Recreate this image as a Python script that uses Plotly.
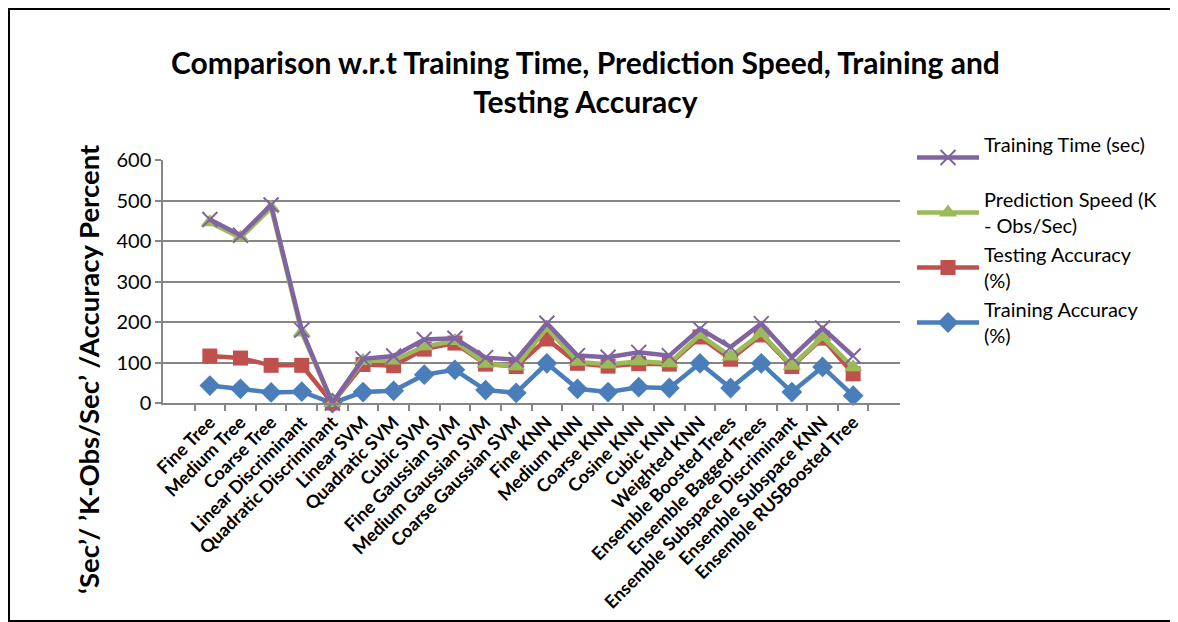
import plotly.graph_objects as go

categories = ["Fine Tree", "Medium Tree", "Coarse Tree", "Linear Discriminant",
              "Quadratic Discriminant", "Linear SVM", "Quadratic SVM", "Cubic SVM",
              "Fine Gaussian SVM", "Medium Gaussian SVM", "Coarse Gaussian SVM",
              "Fine KNN", "Medium KNN", "Coarse KNN", "Cosine KNN", "Cubic KNN",
              "Weighted KNN", "Ensemble Boosted Trees", "Ensemble Bagged Trees",
              "Ensemble Subspace Discriminant", "Ensemble Subspace KNN",
              "Ensemble RUSBoosted Tree"]

# Raw series values (the chart is an Excel-style stacked line chart)
training_accuracy = [43, 35, 26, 28, 0, 27, 30, 70, 82, 32, 25, 98, 35, 27, 39, 37, 98, 37, 98, 27, 89, 18]
testing_accuracy = [73, 76, 67, 65, 0, 68, 62, 63, 66, 64, 65, 60, 63, 64, 58, 59, 65, 71, 70, 63, 71, 54]
prediction_speed = [330, 297, 389, 81, 0, 9, 13, 7, 5, 1, 1, 27, 4, 4, 6, 2, 5, 7, 4, 2, 3, 16]
training_time = [7, 6, 7, 6, 0, 5, 11, 17, 7, 15, 16, 12, 15, 18, 22, 19, 15, 23, 24, 21, 22, 28]

series = [
    ("Training Accuracy<br>(%)", training_accuracy, "#4A7EBB",
     dict(symbol="diamond", size=16, color="#4A7EBB"), 4),
    ("Testing Accuracy<br>(%)", testing_accuracy, "#C0504D",
     dict(symbol="square", size=15, color="#C0504D"), 3),
    ("Prediction Speed (K<br>- Obs/Sec)", prediction_speed, "#9BBB59",
     dict(symbol="triangle-up", size=16, color="#9BBB59"), 2),
    ("Training Time (sec)<br> ", training_time, "#8064A2",
     dict(symbol="x-thin", size=15, color="#8064A2",
          line=dict(width=2, color="#8064A2")), 1),
]

fig = go.Figure()
for name, vals, col, mk, rank in series:
    fig.add_trace(go.Scatter(
        x=categories, y=vals, name=name, mode="lines+markers",
        stackgroup="one", fill="none", legendrank=rank,
        line=dict(color=col, width=4.5), marker=mk,
        cliponaxis=False,
    ))

# page is rendered with an 8px body margin
OFF = 8
W, H = 1170, 614
L, T = 163 - OFF, 160 - OFF
pw, ph = 737, 243
R, B = W - L - pw, H - T - ph

def px(x):
    return (x - OFF - L) / pw

def py(y):
    return (H - B - (y - OFF)) / ph

FONT = "Lato, Open Sans, sans-serif"

fig.update_layout(
    width=W, height=H,
    margin=dict(l=L, r=R, t=T, b=B, autoexpand=False),
    paper_bgcolor="white", plot_bgcolor="white",
    font=dict(family=FONT, color="black"),
    showlegend=True,
    legend=dict(
        traceorder="normal",
        x=px(912), xanchor="left", y=py(125), yanchor="top",
        font=dict(size=20, family=FONT, color="black"),
        bgcolor="rgba(0,0,0,0)", itemwidth=62,
    ),
    annotations=[
        dict(text="<b>Comparison w.r.t Training Time, Prediction Speed, Training and<br>Testing Accuracy</b>",
             xref="paper", yref="paper", x=px(585), y=py(82),
             xanchor="center", yanchor="middle", showarrow=False,
             font=dict(size=30, family=FONT, color="black")),
        dict(text="<b>‘Sec’/ ’K-Obs/Sec’ /Accuracy Percent</b>",
             xref="paper", yref="paper", x=px(88), y=py(369),
             xanchor="center", yanchor="middle", showarrow=False, textangle=-90,
             font=dict(size=27.5, family=FONT, color="black")),
    ],
    shapes=[dict(type="rect", xref="paper", yref="paper",
                 x0=px(OFF + 1), x1=px(OFF + W + 4), y0=py(OFF + H - 1), y1=py(OFF + 1),
                 line=dict(color="black", width=2), layer="below")],
)

fig.update_xaxes(
    type="category", tickangle=-45, tickson="boundaries",
    ticks="outside", ticklen=6, tickcolor="#868686", tickwidth=1.5,
    showline=True, linecolor="#868686", linewidth=1.5, showgrid=False,
    tickfont=dict(size=18, family=FONT, color="black", weight="bold"),
)
fig.update_yaxes(
    range=[0, 600], dtick=100, tickmode="linear",
    ticks="outside", ticklen=6, tickcolor="#868686", tickwidth=1.5,
    showline=True, linecolor="#868686", linewidth=1.5,
    showgrid=True, gridcolor="#868686", gridwidth=1.5,
    zeroline=False,
    tickfont=dict(size=20, family=FONT, color="black"),
)

fig.write_html("out.html")
